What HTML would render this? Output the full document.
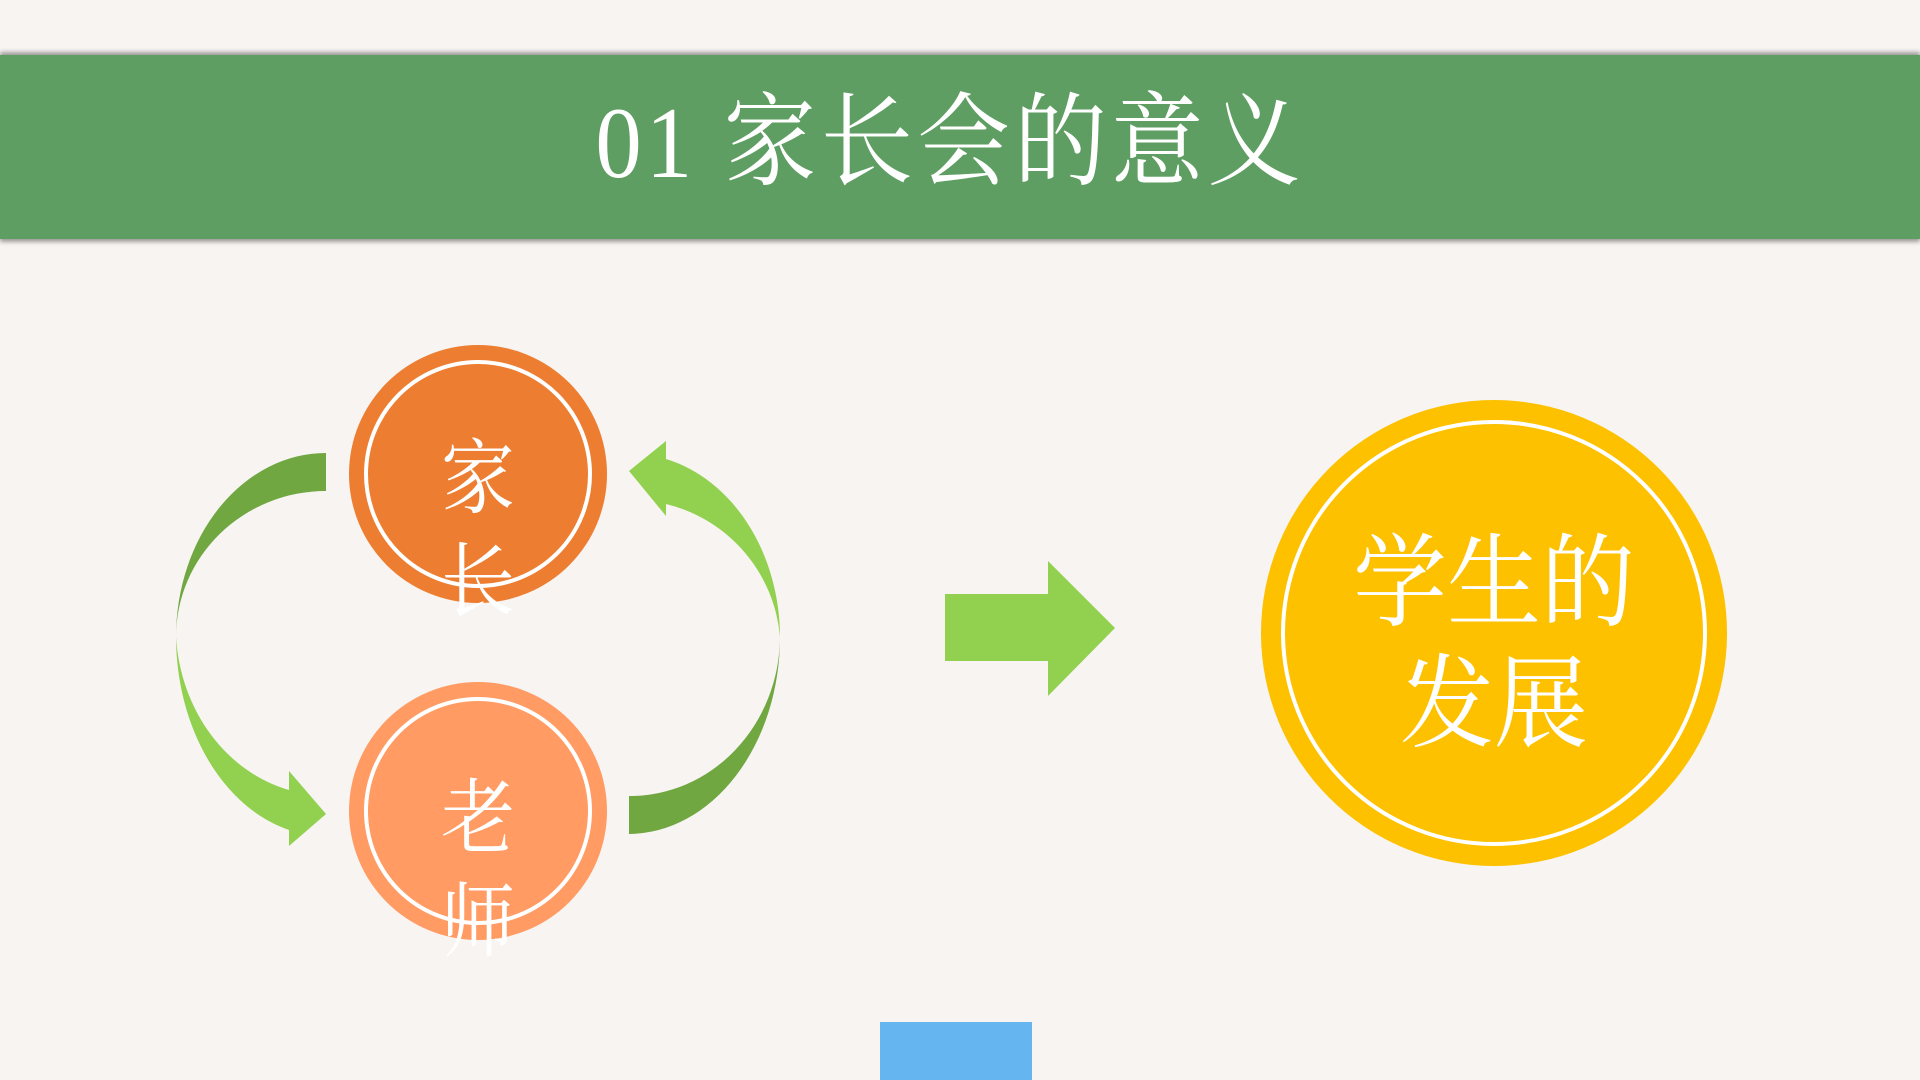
<!DOCTYPE html>
<html><head><meta charset="utf-8"><style>
html,body{margin:0;padding:0}
body{width:1920px;height:1080px;background:#f7f4f1;position:relative;overflow:hidden;font-family:"Liberation Serif","Noto Serif CJK SC",serif}
.banner{position:absolute;left:0;top:55px;width:1920px;height:184px;background:#5e9e62;box-shadow:0 -3px 4px rgba(0,0,0,.35),0 3px 4px rgba(0,0,0,.35)}
.title{position:absolute;left:-10px;top:52px;width:1920px;height:184px;line-height:184px;text-align:center;color:#fff;font-size:90px;letter-spacing:4px;transform:scale(1.03,1.13)}
.circ{position:absolute;border-radius:50%}
.ring{position:absolute;border-radius:50%;border:4px solid #fff;box-sizing:border-box}
.vt{position:absolute;color:#fff;font-size:74px;line-height:94px;text-align:center;width:100px;transform:scaleY(1.1);transform-origin:50% 0}
</style></head><body>
<div class="banner"></div>
<div class="title">01 家长会的意义</div>

<svg width="1920" height="1080" style="position:absolute;left:0;top:0">
 <path d="M326,453 A150,184 0 0 0 176,637 A150,146 0 0 1 326,491 Z" fill="#70a741"/>
 <path d="M176,637 A150,200 0 0 0 289,830 L289,790 A150,170 0 0 1 176,637 Z" fill="#92d050"/>
 <polygon points="289,771 326,814 289,846" fill="#92d050"/>
 <path d="M666,459 A150,184 0 0 1 780,637 A150,150 0 0 0 666,504 Z" fill="#92d050"/>
 <polygon points="666,441 629,471 666,516" fill="#92d050"/>
 <path d="M780,637 A152,197 0 0 1 629,834 L629,796 A150,160 0 0 0 780,637 Z" fill="#70a741"/>
 <polygon points="945,594 1048,594 1048,561 1115,628 1048,696 1048,661 945,661" fill="#92d050"/>
</svg>

<div class="circ" style="left:349px;top:345px;width:258px;height:258px;background:#ed7d31"></div>
<div class="ring" style="left:364px;top:360px;width:228px;height:228px"></div>
<div class="vt" style="left:428px;top:428px">家<br>长</div>

<div class="circ" style="left:349px;top:682px;width:258px;height:258px;background:#ff9b63"></div>
<div class="ring" style="left:364px;top:697px;width:228px;height:228px"></div>
<div class="vt" style="left:428px;top:768px">老<br>师</div>

<div class="circ" style="left:1261px;top:400px;width:466px;height:466px;background:#fdc100"></div>
<div class="ring" style="left:1281px;top:420px;width:426px;height:426px"></div>
<div style="position:absolute;left:1294px;top:524px;width:400px;text-align:center;color:#fff;font-size:94px;line-height:112px;transform:scaleY(1.08);transform-origin:50% 0">学生的<br>发展</div>

<div style="position:absolute;left:880px;top:1022px;width:152px;height:58px;background:#64b5f0"></div>
</body></html>
